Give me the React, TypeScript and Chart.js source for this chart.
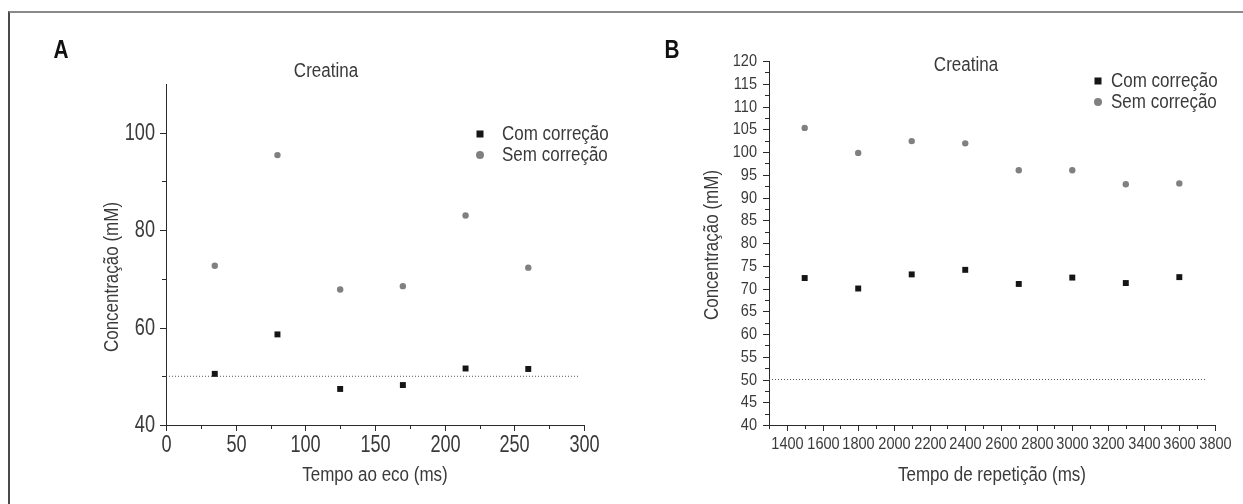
import React, { useEffect, useRef } from 'react';
import { Chart, registerables } from 'chart.js';

Chart.register(...registerables);

const FONT = "'Liberation Sans', Arial, 'Noto Sans', sans-serif";
const TEXT = '#3a3a3a';
const AXIS = '#2a2a2a';
const SQUARE = '#151515';
const CIRCLE = '#808080';

// ---- shared
const seriesLabels = ['Com correção', 'Sem correção'];
const chartTitle = 'Creatina';
const yAxisTitle = 'Concentração (mM)';

// ---- Panel A: echo time
const echoTimes = [35, 80, 125, 170, 215, 260];
const echoCorrected = [50.5, 58.6, 47.4, 48.2, 51.6, 51.5];
const echoUncorrected = [72.7, 95.4, 67.8, 68.5, 83.0, 72.3];
const echoRefX = [0, 296];
const echoRefY = [50, 50];

// ---- Panel B: repetition time
const repTimes = [1500, 1800, 2100, 2400, 2700, 3000, 3300, 3600];
const repCorrected = [72.3, 70.0, 73.1, 74.1, 71.0, 72.4, 71.2, 72.5];
const repUncorrected = [105.3, 99.8, 102.4, 101.9, 96.0, 96.0, 92.9, 93.1];
const repRefX = [1300, 3750];
const repRefY = [50, 50];

const pts = (xs: number[], ys: number[]) => xs.map((x, i) => ({ x, y: ys[i] }));
const isMult = (v: number, m: number) => Math.abs(v / m - Math.round(v / m)) < 1e-6;

// condensed text: regular font squeezed horizontally
function drawText(
  ctx: CanvasRenderingContext2D,
  text: string,
  x: number,
  y: number,
  size: number,
  sx: number,
  align: CanvasTextAlign,
  opts: { weight?: string; color?: string; rot?: number } = {}
) {
  ctx.save();
  ctx.translate(x, y);
  if (opts.rot) ctx.rotate(opts.rot);
  ctx.scale(sx, 1);
  ctx.font = `${opts.weight || 'normal'} ${size}px ${FONT}`;
  ctx.fillStyle = opts.color || TEXT;
  ctx.textAlign = align;
  ctx.textBaseline = 'middle';
  ctx.fillText(text, 0, 0);
  ctx.restore();
}

const decorPlugin = {
  id: 'decor',
  afterDraw(chart: any, _args: any, o: any) {
    const ctx: CanvasRenderingContext2D = chart.ctx;
    const xs = chart.scales.x;
    const ys = chart.scales.y;
    ctx.save();
    ctx.strokeStyle = AXIS;
    ctx.lineWidth = 1;
    const seg = (x1: number, y1: number, x2: number, y2: number) => {
      ctx.beginPath();
      ctx.moveTo(x1, y1);
      ctx.lineTo(x2, y2);
      ctx.stroke();
    };
    // x ticks + labels
    xs.ticks.forEach((t: any) => {
      const v = t.value;
      const major = isMult(v, o.xMajor);
      const p = Math.round(xs.getPixelForValue(v)) + 0.5;
      seg(p, xs.top, p, xs.top + (major ? 6 : 4));
      if (major) drawText(ctx, String(Math.round(v)), p, xs.top + o.xLabelDy, o.tickSize, o.tickSx, 'center');
    });
    // y ticks + labels
    ys.ticks.forEach((t: any) => {
      const v = t.value;
      if (o.yHideMax && Math.abs(v - ys.max) < 1e-6) return;
      const major = isMult(v, o.yMajor);
      const p = Math.round(ys.getPixelForValue(v)) + 0.5;
      seg(ys.right, p, ys.right - (major ? 6 : 4), p);
      if (major) drawText(ctx, String(Math.round(v)), ys.right - o.yLabelGap, p, o.tickSize, o.tickSx, 'right');
    });
    // panel letter
    drawText(ctx, o.letter, o.letterX, o.letterY, 26, 0.8, 'center', { weight: 'bold', color: '#111' });
    // chart title
    drawText(ctx, o.title, o.titleX, o.titleY, 20, 0.85, 'center');
    // legend
    chart.data.datasets.slice(0, 2).forEach((ds: any, i: number) => {
      const y = o.legendY + i * o.legendGap;
      ctx.fillStyle = ds.backgroundColor;
      if (ds.pointStyle === 'rect') {
        ctx.fillRect(o.legendMarkX - 3.5, y - 3.5, 7, 7);
      } else {
        ctx.beginPath();
        ctx.arc(o.legendMarkX, y, 4, 0, Math.PI * 2);
        ctx.fill();
      }
      drawText(ctx, ds.label, o.legendTextX, y, 20, 0.85, 'left');
    });
    // axis titles
    drawText(ctx, o.xTitle, (xs.left + xs.right) / 2, o.xTitleY, 20, 0.85, 'center');
    drawText(ctx, o.yTitle, o.yTitleX, o.yTitleY, 20, 0.85, 'center', { rot: -Math.PI / 2 });
    ctx.restore();
  },
};

type AxisOpts = {
  min: number;
  max: number;
  step: number;
  fit: (s: any) => void;
};

function axis(o: AxisOpts) {
  return {
    type: 'linear',
    min: o.min,
    max: o.max,
    afterFit: o.fit,
    border: { display: true, color: AXIS, width: 1 },
    grid: { display: true, drawOnChartArea: false, drawTicks: false },
    ticks: { display: false, stepSize: o.step, autoSkip: false, maxTicksLimit: 200 },
    title: { display: false },
  };
}

type PanelCfg = {
  left: number;
  width: number;
  xs: number[];
  corrected: number[];
  uncorrected: number[];
  refX: number[];
  refY: number[];
  padding: any;
  x: AxisOpts;
  y: AxisOpts;
  decor: any;
};

const H = 504;

const panelA: PanelCfg = {
  left: 0,
  width: 620,
  xs: echoTimes,
  corrected: echoCorrected,
  uncorrected: echoUncorrected,
  refX: echoRefX,
  refY: echoRefY,
  padding: { left: 0, right: 36, top: 84, bottom: 12 },
  x: { min: 0, max: 300, step: 25, fit: (s) => { s.height = H - 425 - 12; } },
  y: { min: 40, max: 110, step: 10, fit: (s) => { s.width = 166; } },
  decor: {
    xMajor: 50, yMajor: 20, yHideMax: true,
    tickSize: 24.5, tickSx: 0.74, xLabelDy: 20, yLabelGap: 11,
    letter: 'A', letterX: 61, letterY: 51,
    title: chartTitle, titleX: 326, titleY: 71,
    legendMarkX: 480, legendTextX: 502, legendY: 134, legendGap: 21,
    xTitle: 'Tempo ao eco (ms)', xTitleY: 475,
    yTitle: yAxisTitle, yTitleX: 112, yTitleY: 277,
  },
};

const panelB: PanelCfg = {
  left: 620,
  width: 623,
  xs: repTimes,
  corrected: repCorrected,
  uncorrected: repUncorrected,
  refX: repRefX,
  refY: repRefY,
  padding: { left: 0, right: 28, top: 61, bottom: 12 },
  x: { min: 1300, max: 3800, step: 100, fit: (s) => { s.height = H - 425 - 12; } },
  y: { min: 40, max: 120, step: 2.5, fit: (s) => { s.width = 149; } },
  decor: {
    xMajor: 200, yMajor: 5, yHideMax: false,
    tickSize: 16.5, tickSx: 0.88, xLabelDy: 19, yLabelGap: 12,
    letter: 'B', letterX: 52, letterY: 51,
    title: chartTitle, titleX: 346, titleY: 65,
    legendMarkX: 478, legendTextX: 491, legendY: 81, legendGap: 21,
    xTitle: 'Tempo de repetição (ms)', xTitleY: 475,
    yTitle: yAxisTitle, yTitleX: 92, yTitleY: 245,
  },
};

function buildConfig(c: PanelCfg): any {
  return {
    type: 'scatter',
    data: {
      datasets: [
        {
          label: seriesLabels[0],
          data: pts(c.xs, c.corrected),
          pointStyle: 'rect',
          pointRadius: 4.2,
          pointHoverRadius: 4.2,
          pointBorderWidth: 0,
          backgroundColor: SQUARE,
          borderColor: SQUARE,
        },
        {
          label: seriesLabels[1],
          data: pts(c.xs, c.uncorrected),
          pointStyle: 'circle',
          pointRadius: 3.2,
          pointHoverRadius: 3.2,
          pointBorderWidth: 0,
          backgroundColor: CIRCLE,
          borderColor: CIRCLE,
        },
        {
          label: 'ref',
          data: pts(c.refX, c.refY),
          showLine: true,
          borderColor: '#555',
          borderWidth: 1,
          borderDash: [1, 2],
          pointRadius: 0,
          pointHoverRadius: 0,
          fill: false,
        },
      ],
    },
    options: {
      responsive: false,
      animation: false,
      devicePixelRatio: 1,
      layout: { padding: c.padding },
      events: [],
      plugins: {
        legend: { display: false },
        title: { display: false },
        tooltip: { enabled: false },
        decor: c.decor,
      },
      scales: { x: axis(c.x), y: axis(c.y) },
    },
    plugins: [decorPlugin],
  };
}

function Panel({ cfg }: { cfg: PanelCfg }) {
  const ref = useRef<HTMLCanvasElement>(null);
  useEffect(() => {
    const chart = new Chart(ref.current as HTMLCanvasElement, buildConfig(cfg));
    return () => chart.destroy();
  }, [cfg]);
  return (
    <canvas
      ref={ref}
      width={cfg.width}
      height={H}
      style={{ position: 'absolute', left: cfg.left, top: 0, width: cfg.width, height: H }}
    />
  );
}

export default function App() {
  return (
    <div
      style={{
        position: 'fixed',
        left: 0,
        top: 0,
        width: 1243,
        height: H,
        background: '#fff',
        overflow: 'hidden',
      }}
    >
      <div
        style={{
          position: 'absolute',
          left: 8,
          top: 11,
          right: 0,
          bottom: -4,
          borderTop: '2px solid #8a8a8a',
          borderLeft: '2px solid #4a4a4a',
        }}
      />
      <Panel cfg={panelA} />
      <Panel cfg={panelB} />
    </div>
  );
}
